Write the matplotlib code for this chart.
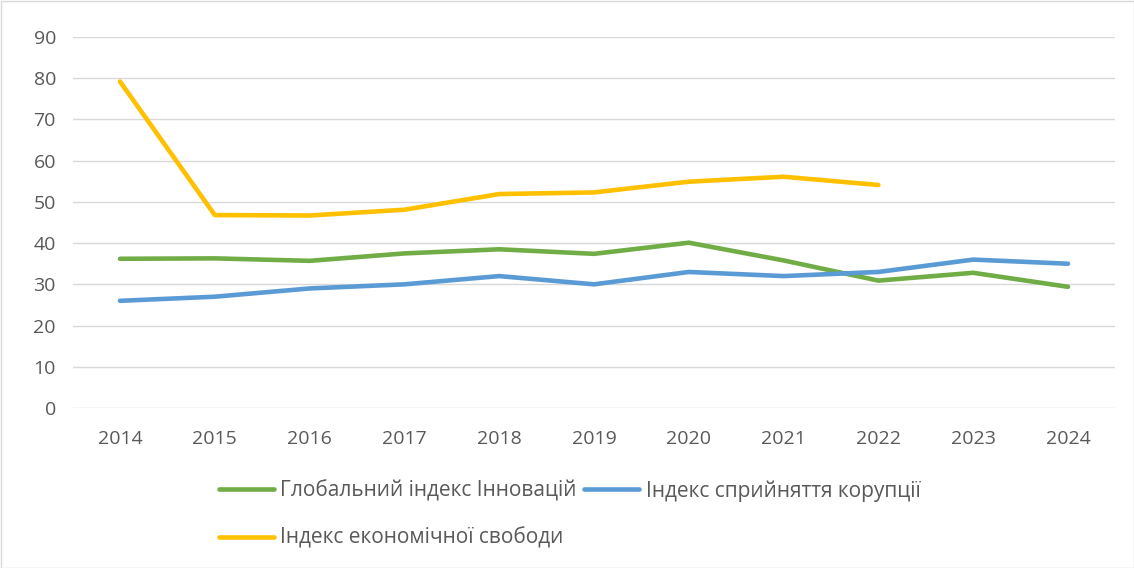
import numpy as np
import matplotlib.pyplot as plt

years = ["2014", "2015", "2016", "2017", "2018", "2019", "2020", "2021", "2022", "2023", "2024"]
innovation = [36.2, 36.3, 35.7, 37.5, 38.5, 37.4, 40.1, 35.8, 30.9, 32.8, 29.4]
corruption = [26, 27, 29, 30, 32, 30, 33, 32, 33, 36, 35]
freedom = [79.2, 46.8, 46.7, 48.1, 51.9, 52.3, 54.9, 56.1, 54.1, np.nan, np.nan]

names = ["Глобальний індекс Інновацій",
         "Індекс сприйняття корупції",
         "Індекс економічної свободи"]
colors = ["#70AD47", "#5B9BD5", "#FFC000"]

plt.rcParams['font.family'] = ['Open Sans', 'DejaVu Sans']

fig = plt.figure(figsize=(11.34, 5.68), dpi=100)
ax = fig.add_axes([72.6 / 1134, 1 - 408 / 568, (1115.4 - 72.6) / 1134, (408 - 37) / 568])

x = np.arange(len(years))
lines = []
for vals, name, col in zip([innovation, corruption, freedom], names, colors):
    ln, = ax.plot(x, vals, color=col, lw=3.3, solid_capstyle='round',
                  solid_joinstyle='round', label=name)
    lines.append(ln)

ax.set_xlim(-0.5, len(years) - 0.5)
ax.set_ylim(0, 90)
ax.set_yticks(range(0, 91, 10))
ax.set_xticks(x)
ax.set_xticklabels(years)
ax.grid(axis='y', color='#D9D9D9', lw=1.0)
ax.set_axisbelow(True)
for s in ax.spines.values():
    s.set_visible(False)
ax.tick_params(length=0, labelsize=14, colors='#595959')
ax.tick_params(axis='y', pad=12)
ax.tick_params(axis='x', pad=16)

# row-major order for a 2-column legend
order = [0, 2, 1]
leg = fig.legend([lines[i] for i in order], [names[i] for i in order],
                 loc='upper left', bbox_to_anchor=(219 / 1134, 1 - 480 / 568),
                 ncol=2, frameon=False, fontsize=15, handlelength=2.65,
                 handletextpad=0.3, columnspacing=0.35, labelspacing=1.25,
                 borderpad=0, borderaxespad=0)
for t in leg.get_texts():
    t.set_color('#595959')

fig.patches.append(plt.Rectangle((0.5 / 1134, 0.5 / 568), 1 - 1 / 1134, 1 - 1 / 568,
                                 transform=fig.transFigure, fill=False,
                                 edgecolor='#D9D9D9', lw=1))

fig.savefig("out.png", dpi=100)
